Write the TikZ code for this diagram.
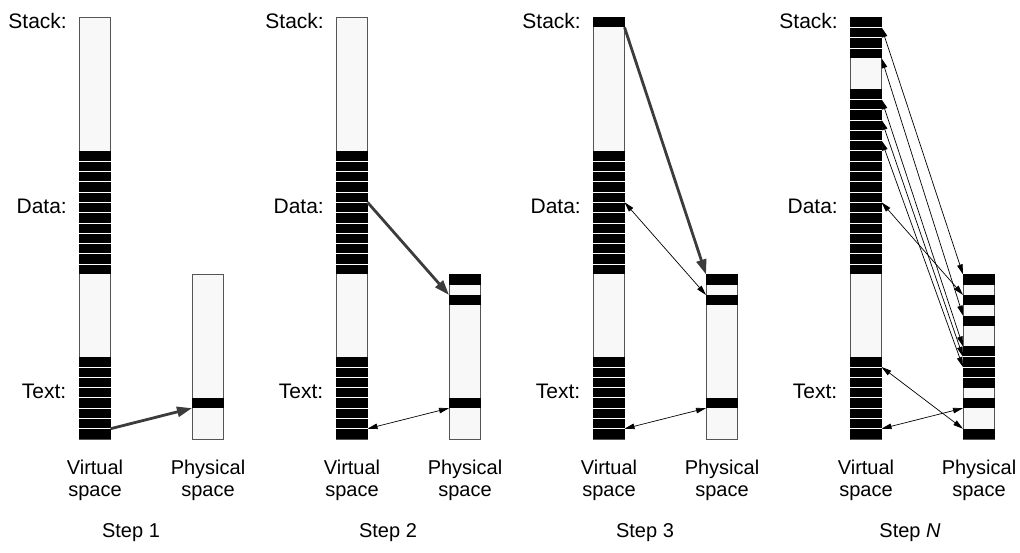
\documentclass[tikz,border=0pt]{standalone}
\usepackage{fontspec}
\setmainfont{Liberation Sans}
\usetikzlibrary{arrows.meta}
\definecolor{barfill}{HTML}{F8F8F8}
\definecolor{barline}{HTML}{555555}
\definecolor{thickc}{HTML}{3C3C3C}
\tikzset{
 lbl/.style={font=\fontsize{20}{22}\selectfont, inner sep=0pt},
 slbl/.style={font=\fontsize{21}{23}\selectfont, inner sep=0pt},
 bar/.style={fill=barfill, draw=barline, line width=1pt},
 sep/.style={draw=white, line width=0.7pt},
 bigarrow/.style={draw=thickc, line width=2.8pt, -{Triangle[length=15pt,width=10pt]}},
 thinarrow/.style={draw=black, line width=0.7pt, {Triangle[length=10pt,width=5.5pt]}-{Triangle[length=10pt,width=5.5pt]}},
}
% #1 name, #2 left x, #3 black ranges a/b
\newcommand\VirtBar[3]{%
 \path[bar] (#2,17) rectangle ++(31.5,422);
 \foreach \a/\b in {#3} {%
  \fill ({#2-0.5},{17+\a*10.293}) rectangle ({#2+32},{17+(\b+1)*10.293});
  \foreach \i in {\a,...,\b} {\ifnum\i>\a \draw[sep] (#2,{17+\i*10.293}) -- ++(31.5,0);\fi}
 }
 \foreach \k in {0,...,41} {\coordinate (#1\k) at ({#2+31.5},{17+\k*10.293});}
}
\newcommand\PhysBar[3]{%
 \path[bar] (#2,274.4) rectangle ++(31.5,164.6);
 \foreach \a/\b in {#3} {%
  \fill ({#2-0.5},{274.4+\a*10.29}) rectangle ({#2+32},{274.4+(\b+1)*10.29});
  \foreach \i in {\a,...,\b} {\ifnum\i>\a \draw[sep] (#2,{274.4+\i*10.29}) -- ++(31.5,0);\fi}
 }
 \foreach \k in {0,...,16} {\coordinate (#1\k) at (#2,{274.4+\k*10.29});}
}
\newcommand\PanelLabels[2]{% #1 x offset
 \node[slbl, anchor=base east] (stk#2) at ({#1+67},28.3) {Stack:};
 \node[slbl, anchor=base east] (dat#2) at ({#1+67},213.3) {Data:};
 \node[slbl, anchor=base east] (txt#2) at ({#1+66.5},398) {Text:};
 \node[lbl, anchor=base] (vir#2) at ({#1+95},474) {Virtual};
 \node[lbl, anchor=base] (vsp#2) at ({#1+95},496) {space};
 \node[lbl, anchor=base] (phy#2) at ({#1+208},474) {Physical};
 \node[lbl, anchor=base] (psp#2) at ({#1+208},496) {space};
}
\begin{document}
\begin{tikzpicture}[x=1pt,y=-1pt]
\useasboundingbox (0,0) rectangle (1020,552);
% Step 1
\VirtBar{va}{79}{13/24,33/40}
\PhysBar{pa}{192}{12/12}
\PanelLabels{0}{a}
\node[lbl, anchor=base] (step1) at (131,537) {Step 1};
\draw[bigarrow] (va40) -- (pa13);
% Step 2
\VirtBar{vb}{336}{13/24,33/40}
\PhysBar{pb}{449}{0/0,2/2,12/12}
\PanelLabels{257}{b}
\node[lbl, anchor=base] (step2) at (388,537) {Step 2};
\draw[bigarrow] (vb18) -- (pb2);
\draw[thinarrow] (vb40) -- (pb13);
% Step 3
\VirtBar{vc}{593}{0/0,13/24,33/40}
\PhysBar{pc}{706}{0/0,2/2,12/12}
\PanelLabels{514}{c}
\node[lbl, anchor=base] (step3) at (645,537) {Step 3};
\draw[bigarrow] (vc1) -- (pc0);
\draw[thinarrow] (vc18) -- (pc2);
\draw[thinarrow] (vc40) -- (pc13);
% Step N
\VirtBar{vd}{850}{0/3,7/24,33/40}
\PhysBar{pd}{963}{0/0,2/2,4/4,7/10,12/12,15/15}
\PanelLabels{771}{d}
\node[lbl, anchor=base] (stepN) at (910,537) {Step \textit{N}};
\draw[thinarrow] (vd1) -- (pd0);
\draw[thinarrow] (vd4) -- (pd4);
\draw[thinarrow] (vd8) -- (pd7);
\draw[thinarrow] (vd10) -- (pd8);
\draw[thinarrow] (vd12) -- (pd9);
\draw[thinarrow] (vd18) -- (pd2);
\draw[thinarrow] (vd34) -- (pd15);
\draw[thinarrow] (vd40) -- (pd13);
\end{tikzpicture}
\end{document}
